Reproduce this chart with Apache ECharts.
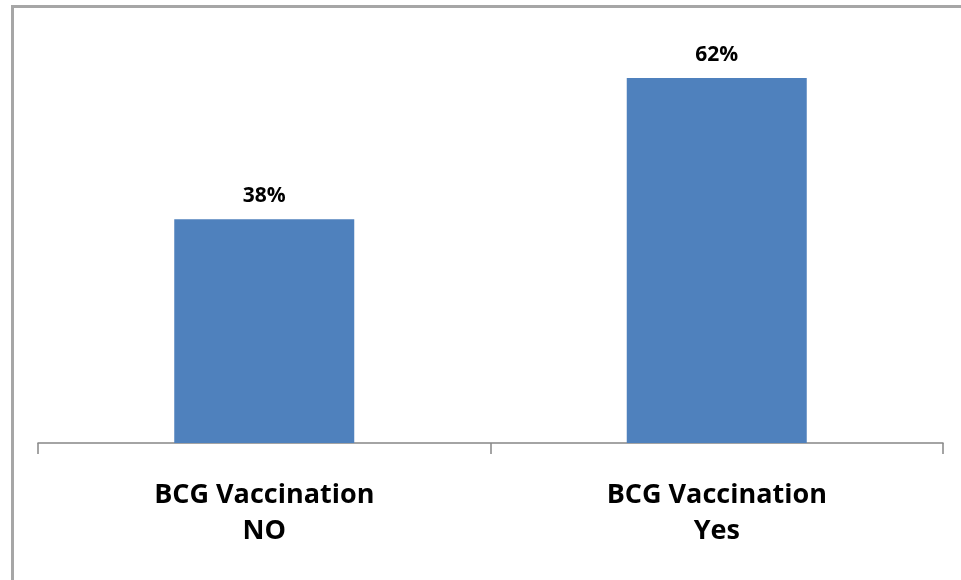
<!DOCTYPE html>
<html>
<head>
<meta charset="utf-8">
<script src="https://cdn.jsdelivr.net/npm/echarts@6/dist/echarts.min.js"></script>
<style>
  html, body { margin: 0; padding: 0; background: #fff; }
  #chart { width: 961px; height: 580px; }
</style>
</head>
<body>
<div id="chart"></div>
<script>
// BCG vaccination share
var categories = ['BCG Vaccination\nNO', 'BCG Vaccination\nYes'];
var values = [38, 62];

var chart = echarts.init(document.getElementById('chart'));

var option = {
    animation: false,
    backgroundColor: '#fff',
    // outer frame of the chart area (only top and left edges are on screen)
    graphic: [
        {
            type: 'rect',
            left: 10,
            top: 4,
            shape: {width: 2000, height: 2000},
            style: {fill: 'none', stroke: '#A6A6A6', lineWidth: 3},
            silent: true
        }
    ],
    grid: {
        left: 38,
        right: 18,
        top: 31,
        bottom: 137
    },
    xAxis: {
        type: 'category',
        data: categories,
        axisLine: {lineStyle: {color: '#868686', width: 1.5}},
        axisTick: {show: true, length: 11, lineStyle: {color: '#868686', width: 1.5}},
        axisLabel: {
            margin: 34,
            fontFamily: 'Open Sans',
            fontWeight: 'bold',
            fontSize: 27,
            lineHeight: 36,
            color: '#000'
        }
    },
    yAxis: {
        type: 'value',
        min: 0,
        max: 70,
        show: false,
        splitLine: {show: false}
    },
    series: [
        {
            type: 'bar',
            data: values,
            barWidth: 180,
            itemStyle: {color: '#4F81BD'},
            label: {
                show: true,
                position: 'top',
                distance: 13,
                formatter: '{c}%',
                fontFamily: 'Open Sans',
                fontWeight: 'bold',
                fontSize: 21,
                color: '#000'
            }
        }
    ]
};

chart.setOption(option);
</script>
</body>
</html>
